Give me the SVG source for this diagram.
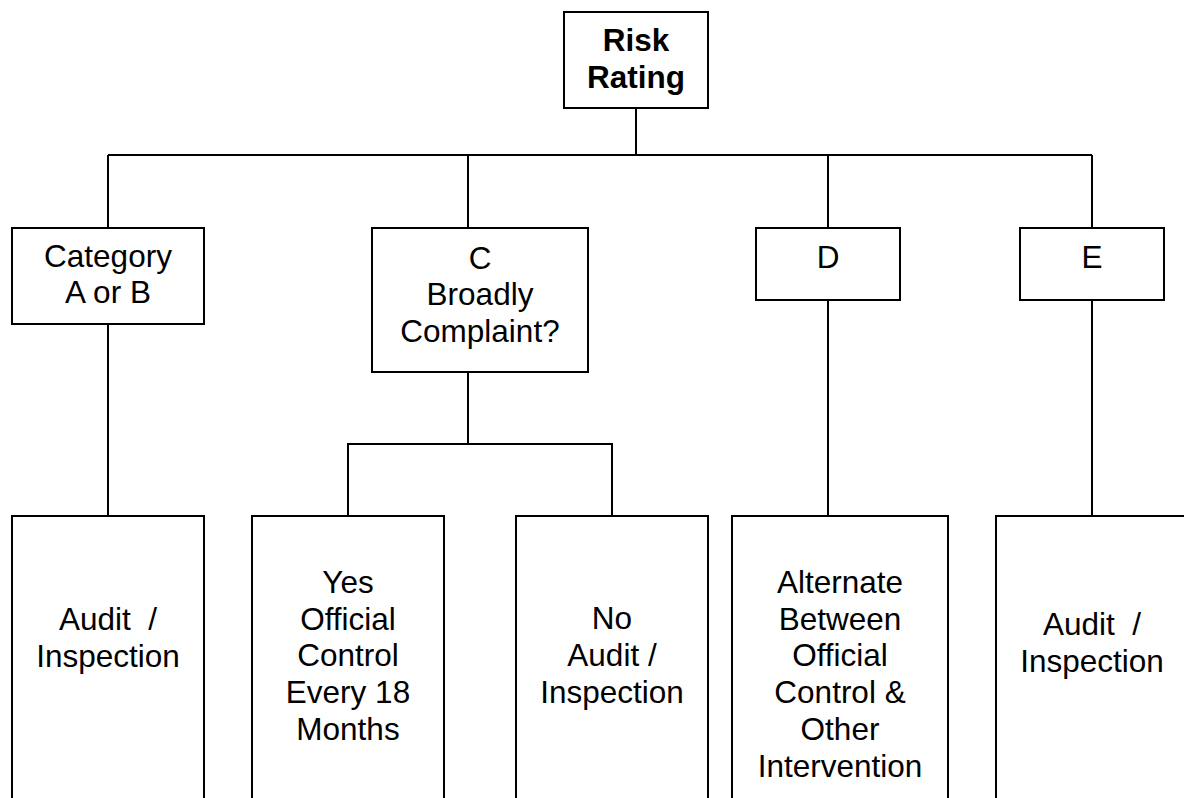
<svg xmlns="http://www.w3.org/2000/svg" width="1184" height="798" viewBox="0 0 1184 798">
<style>
rect.box{fill:#fff;stroke:#000;stroke-width:2}
.conn line,.conn path{stroke:#000;stroke-width:2;fill:none}
text{font-family:"Liberation Sans",Arial,sans-serif;font-size:31.5px;fill:#000;text-anchor:middle;white-space:pre}
text.b{font-weight:bold}
</style>
<rect width="1184" height="798" fill="#fff"/>
<g class="conn" id="connectors">
<line x1="636" y1="108" x2="636" y2="155"/>
<line x1="108" y1="155" x2="1092" y2="155"/>
<line x1="108" y1="155" x2="108" y2="228"/>
<line x1="468" y1="155" x2="468" y2="228"/>
<line x1="828" y1="155" x2="828" y2="228"/>
<line x1="1092" y1="155" x2="1092" y2="228"/>
<line x1="108" y1="324" x2="108" y2="516"/>
<line x1="468" y1="372" x2="468" y2="444"/>
<path d="M348 516V444H612V516"/>
<line x1="828" y1="300" x2="828" y2="516"/>
<line x1="1092" y1="300" x2="1092" y2="516"/>
</g>
<g id="risk">
<rect class="box" x="564" y="12" width="144" height="96"/>
<text class="b" x="636" y="51">Risk</text>
<text class="b" x="636" y="87.5">Rating</text>
</g>
<g id="catAB">
<rect class="box" x="12" y="228" width="192" height="96"/>
<text x="108" y="266.5">Category</text>
<text x="108" y="303.3">A or B</text>
</g>
<g id="catC">
<rect class="box" x="372" y="228" width="216" height="144"/>
<text x="480" y="268.5">C</text>
<text x="480" y="304.5">Broadly</text>
<text x="480" y="341.5">Complaint?</text>
</g>
<g id="catD">
<rect class="box" x="756" y="228" width="144" height="72"/>
<text x="828" y="267.5">D</text>
</g>
<g id="catE">
<rect class="box" x="1020" y="228" width="144" height="72"/>
<text x="1092" y="267.5">E</text>
</g>
<g id="auditAB">
<rect class="box" x="12" y="516" width="192" height="310"/>
<text x="108" y="630">Audit  /</text>
<text x="108" y="667">Inspection</text>
</g>
<g id="yes">
<rect class="box" x="252" y="516" width="192" height="310"/>
<text x="348" y="592.7">Yes</text>
<text x="348" y="629.5">Official</text>
<text x="348" y="666.3">Control</text>
<text x="348" y="703.1">Every 18</text>
<text x="348" y="740">Months</text>
</g>
<g id="no">
<rect class="box" x="516" y="516" width="192" height="310"/>
<text x="612" y="629.3">No</text>
<text x="612" y="666.3">Audit /</text>
<text x="612" y="703.3">Inspection</text>
</g>
<g id="alternate">
<rect class="box" x="732" y="516" width="216" height="310"/>
<text x="840" y="592.7">Alternate</text>
<text x="840" y="629.5">Between</text>
<text x="840" y="666.3">Official</text>
<text x="840" y="703.1">Control &amp;</text>
<text x="840" y="740">Other</text>
<text x="840" y="776.7">Intervention</text>
</g>
<g id="auditE">
<rect class="box" x="996" y="516" width="192" height="310"/>
<text x="1092" y="635">Audit  /</text>
<text x="1092" y="671.7">Inspection</text>
</g>
</svg>
